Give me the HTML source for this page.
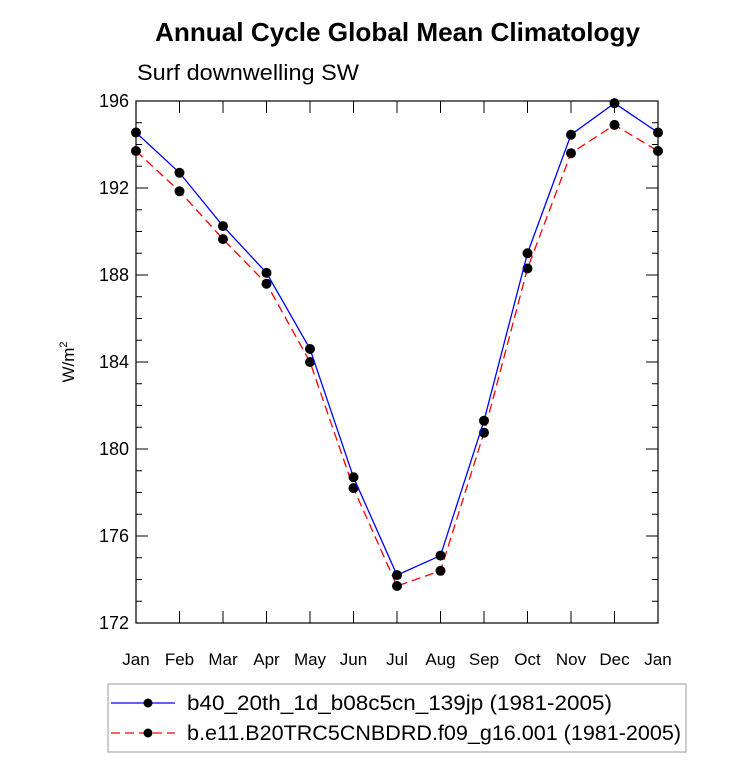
<!DOCTYPE html>
<html><head><meta charset="utf-8"><style>body{margin:0;background:#fff}svg text{font-family:"Liberation Sans",sans-serif}</style></head>
<body>
<svg id="c" width="733" height="774"></svg>
<script>
const months=["Jan","Feb","Mar","Apr","May","Jun","Jul","Aug","Sep","Oct","Nov","Dec","Jan"];
const seriesA=[194.55,192.7,190.25,188.1,184.6,178.7,174.2,175.1,181.3,189.0,194.45,195.9,194.55];
const seriesB=[193.7,191.85,189.65,187.6,184.0,178.2,173.7,174.4,180.75,188.3,193.6,194.9,193.7];
const yTicks=[172,176,180,184,188,192,196];
const NS="http://www.w3.org/2000/svg";
const svg=document.getElementById('c');
const L=136,R=658,T=101,B=623,yMin=172,yMax=196;
const xs=i=>L+(R-L)*i/(months.length-1);
const ys=v=>B-(B-T)*(v-yMin)/(yMax-yMin);
function el(t,a,p){const e=document.createElementNS(NS,t);for(const k in a)e.setAttribute(k,a[k]);(p||svg).appendChild(e);return e;}
let e;
e=el('text',{x:155,y:41,'font-size':26,'font-weight':'bold',textLength:485,lengthAdjust:'spacingAndGlyphs'});e.textContent="Annual Cycle Global Mean Climatology";


e=el('text',{x:137,y:80,'font-size':22,textLength:222,lengthAdjust:'spacingAndGlyphs'});e.textContent="Surf downwelling SW";


e=el('rect',{x:L,y:T,width:R-L,height:B-T,fill:'none',stroke:'#000','stroke-width':1.2});


for(let v=yMin;v<=yMax;v++){const y=ys(v);const major=yTicks.includes(v);const len=major?12:6;
 el('line',{x1:L,x2:L+len,y1:y,y2:y,stroke:'#000'});el('line',{x1:R,x2:R-len,y1:y,y2:y,stroke:'#000'});
 if(major){e=el('text',{x:L-7,y:y+6,'text-anchor':'end','font-size':18});e.textContent=v;
 
 }}
months.forEach((m,i)=>{const x=xs(i);el('line',{x1:x,x2:x,y1:B,y2:B-12,stroke:'#000'});el('line',{x1:x,x2:x,y1:T,y2:T+12,stroke:'#000'});
 e=el('text',{x:x,y:B+42,'text-anchor':'middle','font-size':17});e.textContent=m;
 
 });
e=el('text',{x:0,y:0,'font-size':17,transform:'translate(74,362) rotate(-90)','text-anchor':'middle'});
e.innerHTML='W/m<tspan font-size="11" dy="-7">2</tspan>';


function series(vals,color,dash,name){const g=el('g',{});
 
 
 el('polyline',{points:vals.map((v,i)=>xs(i)+','+ys(v)).join(' '),fill:'none',stroke:color,'stroke-width':1.3,'stroke-dasharray':dash},g);
 vals.forEach((v,i)=>{const c=el('circle',{cx:xs(i),cy:ys(v),r:5,fill:'#000'},g);
 
 });}
series(seriesB,'#f00','9,5','series-b');
series(seriesA,'#00f','none','series-a');
const lg=el('g',{});


el('rect',{x:108,y:684,width:578,height:68,fill:'#fff',stroke:'#aaa','stroke-width':1.2},lg);
[["b40_20th_1d_b08c5cn_139jp (1981-2005)",'#00f','none',703,425],["b.e11.B20TRC5CNBDRD.f09_g16.001 (1981-2005)",'#f00','9,5',733,494]].forEach(r=>{
 el('line',{x1:111,x2:175,y1:r[3],y2:r[3],stroke:r[1],'stroke-width':1.3,'stroke-dasharray':r[2]},lg);
 el('circle',{cx:148,cy:r[3],r:4.5,fill:'#000'},lg);
 const t=el('text',{x:187,y:r[3]+7,'font-size':21,textLength:r[4],lengthAdjust:'spacingAndGlyphs'},lg);t.textContent=r[0];
 
 });
</script>
</body></html>
